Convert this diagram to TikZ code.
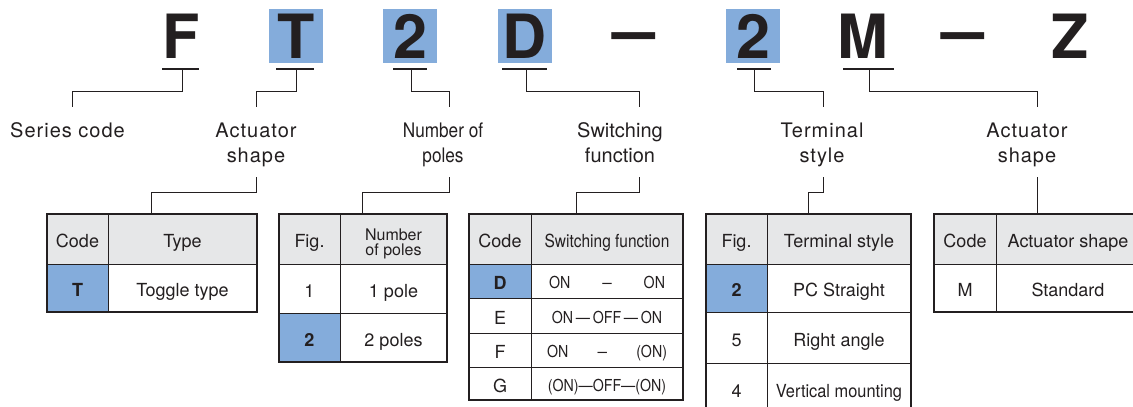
\documentclass[tikz,border=0pt]{standalone}
\usepackage{fontspec}
\setmainfont{TeX Gyre Heros}
\newfontfamily\condfont[FakeStretch=0.86]{TeX Gyre Heros}
\newfontfamily\midcondfont[FakeStretch=0.91]{TeX Gyre Heros}
\newfontfamily\trackfont[LetterSpace=5]{TeX Gyre Heros}
\definecolor{ink}{RGB}{35,31,32}
\definecolor{selblue}{RGB}{132,172,219}
\definecolor{hdrgray}{RGB}{230,231,232}

\begin{document}
\begin{tikzpicture}[
    x=1pt,y=-1pt,
    codechar/.style={inner sep=0pt,outer sep=0pt,minimum size=54pt,text=ink,
        font=\fontsize{61}{61}\selectfont\bfseries,
        text height=44pt,text depth=0pt},
    codesel/.style={codechar,fill=selblue},
    uline/.style={draw=ink,line width=1.3pt},
    conn/.style={draw=ink,line width=1pt},
    lbl/.style={font=\trackfont\fontsize{20}{25}\selectfont,text=ink,
        align=center,anchor=north,inner xsep=0pt,inner ysep=15pt,outer sep=0pt,
        text height=15pt,text depth=5pt},
    lbltwo/.style={lbl,text height=40pt,text depth=-1pt},
    cell/.style={draw=ink,line width=0.9pt,anchor=north west,inner sep=0pt,
        outer sep=0pt,align=center,text=ink,
        font=\fontsize{18}{18}\selectfont,text height=17pt,text depth=0pt},
    hcell/.style={cell,fill=hdrgray},
    scell/.style={cell,fill=selblue,font=\fontsize{18}{18}\selectfont\bfseries},
    swcell/.style={cell,font=\condfont\fontsize{16.5}{16.5}\selectfont,
        text height=15pt},
    frame/.style={draw=ink,line width=1.8pt},
    ]
    \useasboundingbox (0,0) rectangle (1133,407);
    \clip (0,0) rectangle (1133,407);
    % Ordering code
    \node[codechar] (cF) at (181,36) {F};
    \node[codesel] (cT) at (296,36) {T};
    \node[codesel] (cP) at (410,36) {2};
    \node[codesel] (cD) at (525,36) {D};
    \node[codechar] (cDashA) at (634.5,31) {\scalebox{1.27}[1.1]{\textendash}};
    \node[codesel] (cS) at (753,36) {2};
    \node[codechar] (cM) at (863,36) {M};
    \node[codechar] (cDashB) at (963.5,31) {\scalebox{1.27}[1.1]{\textendash}};
    \node[codechar] (cZ) at (1070,36) {Z};
    % Underlines
    \coordinate (uF) at (182,69);
    \coordinate (uT) at (296,69);
    \coordinate (uP) at (411,69);
    \coordinate (uD) at (526,69);
    \coordinate (uS) at (754,69);
    \coordinate (uM) at (869,69);
    \draw[uline] (uF) +(-20,0) -- +(17,0);
    \draw[uline] (uT) +(-20,0) -- +(18,0);
    \draw[uline] (uP) +(-18,0) -- +(16,0);
    \draw[uline] (uD) +(-24,0) -- +(21,0);
    \draw[uline] (uS) +(-17,0) -- +(17,0);
    \draw[uline] (uM) +(-26,0) -- +(25,0);
    % Labels
    \node[lbl] (lSeries) at (67.5,107) {Series code};
    \node[lbltwo] (lAct) at (256,107) {Actuator\\shape};
    \node[lbltwo,font=\condfont\fontsize{20}{25}\selectfont] (lPoles)
         at (443,107) {Number of\\poles};
    \node[lbltwo,font=\fontsize{20}{25}\selectfont] (lSwitch)
         at (620,107) {Switching\\function};
    \node[lbltwo] (lTerm) at (822,107) {Terminal\\style};
    \node[lbltwo] (lActB) at (1027,107) {Actuator\\shape};
    % Code to label
    \draw[conn] (uF) -- ++(0,22) -| ([xshift=4.5pt]lSeries.north);
    \draw[conn] (uT) -- ++(0,22) -| (lAct.north);
    \draw[conn] (uP) -- ++(0,22) -| ([xshift=6pt]lPoles.north);
    \draw[conn] (uD) -- ++(0,22) -| ([xshift=19pt]lSwitch.north);
    \draw[conn] (uS) -- ++(0,22) -| ([xshift=1pt]lTerm.north);
    \draw[conn] (uM) -- ++(0,22) -| ([xshift=10pt]lActB.north);
    % Actuator table
    \node[hcell,minimum width=61pt,minimum height=50pt] (t1h1) at (47,214) {Code};
    \node[hcell,minimum width=149pt,minimum height=50pt] (t1h2) at (108,214) {Type};
    \node[scell,minimum width=61pt,minimum height=48pt] (t1c1) at (47,264) {T};
    \node[cell,minimum width=149pt,minimum height=48pt] (t1d1) at (108,264) {Toggle type};
    \draw[frame] (t1h1.north west) rectangle (t1d1.south east);
    % Poles table
    \node[hcell,minimum width=61pt,minimum height=50pt] (t2h1) at (279,214) {Fig.};
    \node[hcell,minimum width=107pt,minimum height=50pt,
          font=\fontsize{16}{15}\selectfont,text height=33.5pt,text depth=0pt]
          (t2h2) at (340,214) {Number\\of poles};
    \node[cell,minimum width=61pt,minimum height=49pt] (t2c1) at (279,264) {1};
    \node[cell,minimum width=107pt,minimum height=49pt] (t2d1) at (340,264) {1 pole};
    \node[scell,minimum width=61pt,minimum height=49pt] (t2c2) at (279,313) {2};
    \node[cell,minimum width=107pt,minimum height=49pt] (t2d2) at (340,313) {2 poles};
    \draw[frame] (t2h1.north west) rectangle (t2d2.south east);
    % Switching table
    \node[hcell,minimum width=62pt,minimum height=50pt] (t3h1) at (469,214) {Code};
    \node[hcell,minimum width=152pt,minimum height=50pt,
          font=\condfont\fontsize{18}{18}\selectfont] (t3h2) at (531,214) {Switching function};
    \node[scell,minimum width=62pt,minimum height=34pt] (t3c1) at (469,264) {D};
    \node[swcell,minimum width=152pt,minimum height=34pt,text width=116pt]
          (t3d1) at (531,264) {ON\hfill\scalebox{1.2}[1]{\textendash}\hfill ON};
    \node[cell,minimum width=62pt,minimum height=35pt] (t3c2) at (469,298) {E};
    \node[swcell,minimum width=152pt,minimum height=35pt]
          (t3d2) at (531,298) {ON\,\textemdash\,OFF\,\textemdash\,ON};
    \node[cell,minimum width=62pt,minimum height=34pt] (t3c3) at (469,333) {F};
    \node[swcell,minimum width=152pt,minimum height=34pt,text width=120pt]
          (t3d3) at (531,333) {ON\hfill\scalebox{1.2}[1]{\textendash}\hfill(ON)};
    \node[cell,minimum width=62pt,minimum height=33pt] (t3c4) at (469,367) {G};
    \node[swcell,minimum width=152pt,minimum height=33pt]
          (t3d4) at (531,367) {(ON)\textemdash OFF\textemdash(ON)};
    \draw[frame] (t3h1.north west) rectangle (t3d4.south east);
    % Terminal table
    \node[hcell,minimum width=61pt,minimum height=50pt] (t4h1) at (706,214) {Fig.};
    \node[hcell,minimum width=144pt,minimum height=50pt] (t4h2) at (767,214) {Terminal style};
    \node[scell,minimum width=61pt,minimum height=48pt] (t4c1) at (706,264) {2};
    \node[cell,minimum width=144pt,minimum height=48pt] (t4d1) at (767,264) {PC Straight};
    \node[cell,minimum width=61pt,minimum height=51pt] (t4c2) at (706,312) {5};
    \node[cell,minimum width=144pt,minimum height=51pt] (t4d2) at (767,312) {Right angle};
    \node[cell,minimum width=61pt,minimum height=51pt] (t4c3) at (706,363) {4};
    \node[cell,minimum width=144pt,minimum height=51pt,
          font=\midcondfont\fontsize{18}{18}\selectfont] (t4d3) at (767,363) {Vertical mounting};
    \draw[frame] (t4h1.north west) rectangle (t4d3.south east);
    % Actuator shape table
    \node[hcell,minimum width=62pt,minimum height=50pt] (t5h1) at (934,214) {Code};
    \node[hcell,minimum width=144pt,minimum height=50pt] (t5h2) at (996,214) {Actuator shape};
    \node[cell,minimum width=62pt,minimum height=48pt] (t5c1) at (934,264) {M};
    \node[cell,minimum width=144pt,minimum height=48pt] (t5d1) at (996,264) {Standard};
    \draw[frame] (t5h1.north west) rectangle (t5d1.south east);
    % Label to table
    \draw[conn] (lAct.south) -- ++(0,15) -| ([xshift=-31.5pt]t1h2.north);
    \draw[conn] ([xshift=6pt]lPoles.south) -- ++(0,15) -| ([xshift=-31.5pt]t2h2.north);
    \draw[conn] ([xshift=19pt]lSwitch.south) -- ++(0,15) -| ([xshift=-31pt]t3h2.north);
    \draw[conn] ([xshift=1pt]lTerm.south) -- ++(0,15) -| ([xshift=-31pt]t4h2.north);
    \draw[conn] ([xshift=10pt]lActB.south) -- ([xshift=-31pt]t5h2.north);
\end{tikzpicture}
\end{document}
